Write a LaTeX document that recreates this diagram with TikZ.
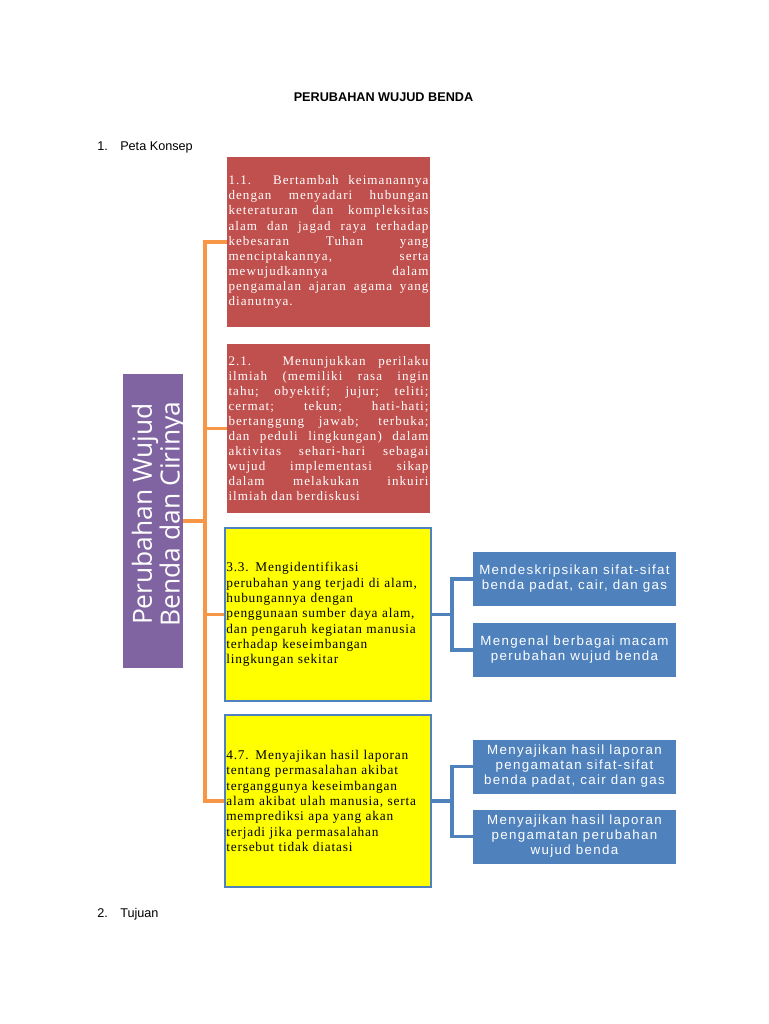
\documentclass[tikz,border=0pt]{standalone}
\usepackage{fontspec}
\setmainfont{Liberation Serif}
\newfontfamily\headfont{Liberation Sans}
\newfontfamily\kdredfont[LetterSpace=8]{Liberation Serif}
\newfontfamily\kdyelfont[LetterSpace=6]{Liberation Serif}
\newfontfamily\indfont[LetterSpace=10]{Liberation Sans}
\newfontfamily\temafont{Open Sans}
\usepackage{tikz}
\usetikzlibrary{calc, positioning}
\usepackage{xcolor}
\definecolor{temaPurple}{RGB}{128, 100, 162}
\definecolor{kdRed}{RGB}{192, 80, 77}
\definecolor{kdBlue}{RGB}{79, 129, 189}
\definecolor{kdYellow}{RGB}{255, 255, 0}
\definecolor{linkOrange}{RGB}{247, 150, 70}

\begin{document}
\begin{tikzpicture}[x=0.75pt, y=-0.75pt,
  redbox/.style={fill=kdRed, text=white, inner sep=1pt, minimum width=152.25pt,
    text width=150pt, align=justify, font=\kdredfont\fontsize{9.8}{11.3}\selectfont},
  yelbox/.style={fill=kdYellow, draw=kdBlue, line width=1.5pt, inner sep=0.5pt,
    minimum width=154.5pt, minimum height=129.5pt, text width=152.5pt, align=left,
    font=\kdyelfont\fontsize{10}{11.5}\selectfont},
  indbox/.style={fill=kdBlue, text=white, minimum width=152.25pt, minimum height=40.5pt,
    inner sep=1pt, align=center, font=\indfont\fontsize{10}{11.25}\selectfont},
  orline/.style={draw=linkOrange, line width=2.5pt},
  blline/.style={draw=kdBlue, line width=2.5pt}]
  \useasboundingbox (0,0) rectangle (768,1024);

  % Heading and numbered items
  \node[font=\headfont\bfseries\fontsize{9.5}{11}\selectfont] (judul) at (383.5, 97) {PERUBAHAN WUJUD BENDA};
  \node[anchor=west, inner sep=0pt, font=\headfont\fontsize{9.5}{11}\selectfont] (konsep) at (97, 147)
    {\makebox[17.25pt][l]{1.}Peta Konsep};
  \node[anchor=west, inner sep=0pt, font=\headfont\fontsize{9.5}{11}\selectfont] (tujuan) at (97, 914)
    {\makebox[17.25pt][l]{2.}Tujuan};

  % Main theme
  \node[fill=temaPurple, minimum width=45pt, minimum height=220.5pt, inner sep=0pt] (tema) at (153, 521) {};
  \node[text=white, rotate=90, align=center, inner sep=0pt,
    font=\temafont\fontsize{19.8}{19.5}\selectfont] (temaText) at (159, 514)
    {Perubahan Wujud\\Benda dan Cirinya};

  % Kompetensi dasar
  \node[redbox, minimum height=127.5pt] (kd1) at (328.5, 242)
    {1.1. Bertambah keimanannya\linebreak dengan menyadari hubungan\linebreak
     keteraturan dan kompleksitas\linebreak alam dan jagad raya terhadap\linebreak
     kebesaran Tuhan yang\linebreak menciptakannya, serta\linebreak
     mewujudkannya dalam\linebreak pengamalan ajaran agama yang\linebreak dianutnya.};
  \node[redbox, minimum height=126.75pt] (kd2) at (328.5, 428.5)
    {2.1. Menunjukkan perilaku\linebreak ilmiah (memiliki rasa ingin\linebreak
     tahu; obyektif; jujur; teliti;\linebreak cermat; tekun; hati-hati;\linebreak
     bertanggung jawab; terbuka;\linebreak dan peduli lingkungan) dalam\linebreak
     aktivitas sehari-hari sebagai\linebreak wujud implementasi sikap\linebreak
     dalam melakukan inkuiri\linebreak ilmiah dan berdiskusi};
  \node[yelbox] (kd3) at (328, 614.5)
    {3.3. Mengidentifikasi\\ perubahan yang terjadi di alam,\\ hubungannya dengan\\
     penggunaan sumber daya alam,\\ dan pengaruh kegiatan manusia\\ terhadap keseimbangan\\
     lingkungan sekitar};
  \node[yelbox] (kd4) at (328, 801)
    {4.7. Menyajikan hasil laporan\\ tentang permasalahan akibat\\ terganggunya keseimbangan\\
     alam akibat ulah manusia, serta\\ memprediksi apa yang akan\\ terjadi jika permasalahan\\
     tersebut tidak diatasi};

  % Indikator
  \node[indbox] (ind1) at (574.5, 579) {Mendeskripsikan sifat-sifat\\benda padat, cair, dan gas};
  \node[indbox] (ind2) at (574.5, 650) {Mengenal berbagai macam\\perubahan wujud benda};
  \node[indbox] (ind3) at (574.5, 766.5) {Menyajikan hasil laporan\\pengamatan sifat-sifat\\benda padat, cair dan gas};
  \node[indbox] (ind4) at (574.5, 836.5) {Menyajikan hasil laporan\\pengamatan perubahan\\wujud benda};

  % Orange links
  \coordinate (spine) at (205, 0);
  \draw[orline] (kd1.west) -- (kd1.west -| spine) -- (kd4.west -| spine) -- (kd4.west);
  \draw[orline] (kd2.west) -- (kd2.west -| spine);
  \draw[orline] (kd3.west) -- (kd3.west -| spine);
  \draw[orline] (tema.east) -- (tema.east -| spine);

  % Blue links
  \coordinate (bspine) at (452, 0);
  \foreach \kd/\a/\b in {kd3/ind1/ind2, kd4/ind3/ind4} {
    \draw[blline] (\a.west) -- (\a.west -| bspine) -- (\b.west -| bspine) -- (\b.west);
    \draw[blline] (\kd.east) -- (\kd.east -| bspine);
  }
\end{tikzpicture}
\end{document}
